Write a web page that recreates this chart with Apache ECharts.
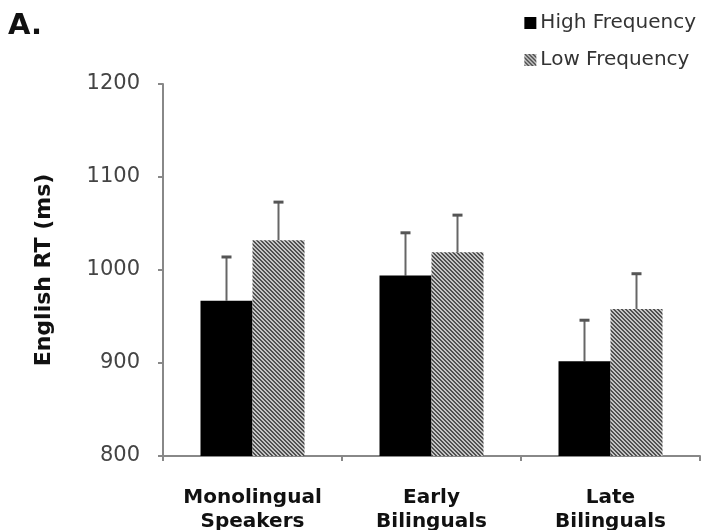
<!DOCTYPE html>
<html>
<head>
<meta charset="utf-8">
<script src="https://cdn.jsdelivr.net/npm/echarts@6/dist/echarts.min.js"></script>
<style>html,body{margin:0;padding:0;background:#fff}#c{width:703px;height:530px}</style>
</head>
<body>
<div id="c"></div>
<script>
var categories = ['Monolingual\nSpeakers', 'Early\nBilinguals', 'Late\nBilinguals'];
var highFreq = [967, 994, 902];
var lowFreq = [1032, 1019, 958];
var highErr = [47, 46, 44];
var lowErr = [41, 40, 38];
var yTicks = [800, 900, 1000, 1100, 1200];

function makePattern() {
  var c = document.createElement('canvas');
  c.width = 4; c.height = 4;
  var ctx = c.getContext('2d');
  ctx.fillStyle = '#c4c4c4';
  ctx.fillRect(0, 0, 4, 4);
  ctx.fillStyle = '#505050';
  for (var i = 0; i < 4; i++) {
    ctx.fillRect(i, i, 1, 1);
    ctx.fillRect((i + 1) % 4, i, 1, 1);
  }
  return c;
}
var pattern = { image: makePattern(), repeat: 'repeat' };

var FONT = 'DejaVu Sans';
var chart = echarts.init(document.getElementById('c'), null, { renderer: 'canvas' });

function errSeries(name, vals, errs, side) {
  return {
    type: 'custom',
    name: name,
    z: 1,
    renderItem: function (params, api) {
      var idx = api.value(0);
      var top = api.coord([idx, api.value(1) + api.value(2)]);
      var base = api.coord([idx, api.value(1)]);
      var band = api.size([1, 0])[0];
      var barW = 52 / 179 * band;
      var x = base[0] + side * barW / 2;
      return {
        type: 'group',
        children: [
          { type: 'line', shape: { x1: x, y1: base[1], x2: x, y2: top[1] }, style: { stroke: '#666', lineWidth: 2 } },
          { type: 'line', shape: { x1: x - 5, y1: top[1], x2: x + 5, y2: top[1] }, style: { stroke: '#555', lineWidth: 3 } }
        ]
      };
    },
    data: vals.map(function (v, i) { return [i, v, errs[i]]; }),
    silent: true
  };
}

chart.setOption({
  animation: false,
  backgroundColor: '#fff',
  title: {
    text: 'A.', left: 3, top: 7,
    textStyle: { fontFamily: FONT, fontSize: 29, fontWeight: 'bold', color: '#111' }
  },
  legend: {
    data: ['High Frequency', 'Low Frequency'],
    orient: 'vertical', right: 2, top: 8,
    itemWidth: 12, itemHeight: 12, itemGap: 17,
    icon: 'rect',
    textStyle: { fontFamily: FONT, fontSize: 20, color: '#333', padding: [0, 0, 0, -1] }
  },
  grid: { left: 163, right: 3, top: 84, bottom: 74, outerBoundsMode: 'none', containLabel: false },
  xAxis: {
    type: 'category',
    data: categories,
    axisLine: { lineStyle: { color: '#888', width: 2 } },
    axisTick: { show: true, length: 5, lineStyle: { color: '#888', width: 2 } },
    axisLabel: { interval: 0, hideOverlap: false, fontFamily: FONT, fontSize: 20, fontWeight: 'bold', color: '#111', margin: 30, lineHeight: 24 }
  },
  yAxis: {
    type: 'value', min: 800, max: 1200, interval: 100,
    name: 'English RT (ms)', nameLocation: 'middle', nameGap: 108,
    nameTextStyle: { fontFamily: FONT, fontSize: 22, fontWeight: 'bold', color: '#111' },
    axisLine: { show: true, lineStyle: { color: '#888', width: 2 } },
    axisTick: { show: true, length: 5, lineStyle: { color: '#888', width: 2 } },
    splitLine: { show: false },
    axisLabel: {
      fontFamily: FONT, fontSize: 21, color: '#444', margin: 23,
      formatter: function (v) { return yTicks.indexOf(v) >= 0 ? String(v) : ''; }
    }
  },
  series: [
    { name: 'High Frequency', type: 'bar', data: highFreq, barWidth: 52, barGap: '0%', itemStyle: { color: '#000' }, z: 2 },
    { name: 'Low Frequency', type: 'bar', data: lowFreq, barWidth: 52, barGap: '0%', itemStyle: { color: pattern }, z: 2 },
    errSeries('hiErr', highFreq, highErr, -1),
    errSeries('loErr', lowFreq, lowErr, 1)
  ]
});
</script>
</body>
</html>
